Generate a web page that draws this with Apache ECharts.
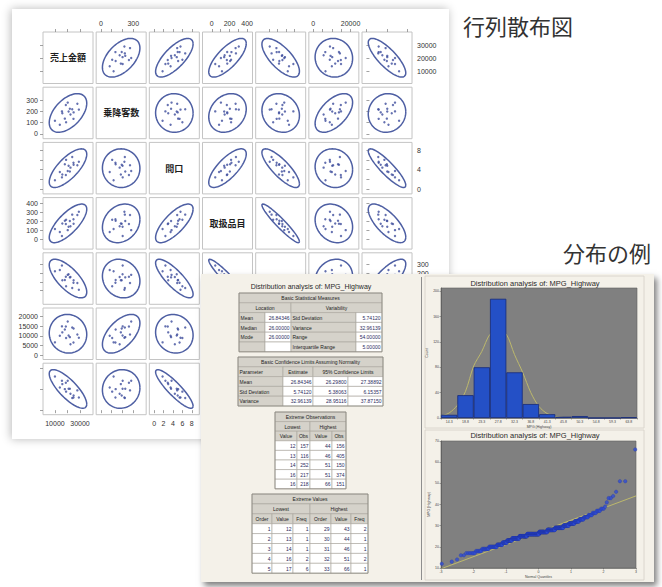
<!DOCTYPE html>
<html><head><meta charset="utf-8">
<script src="https://cdn.jsdelivr.net/npm/echarts@6.0.0/dist/echarts.min.js"></script>
<style>
html,body{margin:0;padding:0;background:#fff;width:662px;height:587px;overflow:hidden;}
#panelA{position:absolute;left:12px;top:9px;width:437px;height:430px;background:#fff;box-shadow:-1px 0 9px rgba(0,0,0,0.28);}
#chartA{position:absolute;left:0;top:0;width:662px;height:587px;}
#panelB{position:absolute;left:201px;top:274px;width:453px;height:308px;background:#f4f1e9;box-shadow:3px 4px 6px rgba(0,0,0,0.5);}
#chartB{position:absolute;left:0;top:0;width:453px;height:308px;}
</style></head><body>
<div id="panelA"></div>
<div id="chartA"></div>
<div id="panelB"><div id="chartB"></div></div>
<script>
// ---------------- Scatter-matrix data (16 stores) ----------------
const varNames = ['売上金額','乗降客数','間口','取扱品目','駐車台数','商圏人口','駅距離'];
const sales      = [15600,10000,20200,13900,18700,20900,15900,22400,17900,21900,24900,18900,27900,24800,23800,29100];
const passengers = [202,118,281,82,260,201,185,174,137,226,193,105,270,135,222,218];
const frontage   = [2.4,1.8,3.7,3.5,2.9,4.8,3.0,4.4,5.1,3.6,5.0,6.0,4.9,5.4,6.6,5.6];
const items      = [39,115,103,82,170,140,175,145,207,204,174,218,269,222,273,305];
const parking    = [291,224,182,239,160,190,119,158,123,153,120,49,88,91,30,8];
const population = [14900,6600,17400,10000,14800,10200,11800,5600,13300,9300,13800,8900,10700,6500,14300,9000];
const distance   = [7.0,8.0,7.0,5.4,6.5,5.1,6.2,3.9,5.0,5.1,3.5,4.4,4.7,3.0,2.9,3.0];
const varData = [sales, passengers, frontage, items, parking, population, distance];
// diagonal labels that are visible (the others lie under the distribution screenshot)
const shownDiag = [0,1,2,3];

// tick marks and tick labels per variable / side (labels hidden under the overlay are left out)
const tickVals = [[10000,20000,30000],[0,100,200,300],[0,2,4,6,8],[0,100,200,300,400],[0,100,200,300],[0,5000,10000,15000,20000],[0,5,10]];
const topLabels    = {1:[0,300], 3:[0,200,400], 5:[0,20000]};
const bottomLabels = {0:[10000,30000], 2:[0,2,4,6,8]};
const leftLabels   = {1:[0,100,200,300], 3:[0,100,200,300,400], 5:[0,5000,10000,15000,20000]};
const rightLabels  = {0:[10000,20000,30000], 2:[0,4,8], 4:[200,300]};

// ---------------- Distribution data (MPG_Highway, n=428) ----------------
const mpgValues = [12,13,14,16,17,18,19,20,21,22,23,24,25,26,27,28,29,30,31,32,33,34,35,36,37,38,39,41,43,44,46,51,66];
const mpgCounts = [1,1,1,2,6,6,10,16,14,14,18,30,36,62,43,37,36,20,18,12,10,8,6,5,4,3,1,1,2,1,1,2,1];
const histLabels = ['14.3','18.8','23.3','27.8','32.3','36.8','41.3','45.8','50.3','54.8','59.3','63.8'];
const histCounts = [5,36,80,188,72,22,6,2,3,0,0,1];
const histYTicks = [0,40,80,120,160,200];
const curveX = [12,14.25,16.5,18.75,21,23.25,25.5,27.75,30,32.25,34.5,36.75,39,41.25,43.5,45.75,48,52];
const curveY = [3,8,20,42,82,105,132,138,132,100,72,40,18,7,2.5,0.8,0.2,0];
const mpgMean = 26.84346, mpgStd = 5.74120;

const basicLoc = [['Mean','26.84346'],['Median','26.00000'],['Mode','26.00000'],['','']];
const basicVar = [['Std Deviation','5.74120'],['Variance','32.96139'],['Range','54.00000'],['Interquartile Range','5.00000']];
const confRows = [['Mean','26.84346','26.29800','27.38892'],['Std Deviation','5.74120','5.38063','6.15357'],['Variance','32.96139','28.95116','37.87150']];
const extObsLow  = [[12,157],[13,116],[14,252],[16,217],[16,218]];
const extObsHigh = [[44,156],[46,405],[51,150],[51,374],[66,151]];
const extValLow  = [[1,12,1],[2,13,1],[3,14,1],[4,16,2],[5,17,6]];
const extValHigh = [[29,43,2],[30,44,1],[31,46,1],[32,51,2],[33,66,1]];

// ---------------- helpers ----------------
function stats(a){const n=a.length;const m=a.reduce((s,v)=>s+v,0)/n;const sd=Math.sqrt(a.reduce((s,v)=>s+(v-m)*(v-m),0)/(n-1));return {m,sd};}
function corr(a,b){const sa=stats(a),sb=stats(b);let s=0;for(let i=0;i<a.length;i++)s+=(a[i]-sa.m)*(b[i]-sb.m);return s/((a.length-1)*sa.sd*sb.sd);}
const K_ELLIPSE = 2.918;      // 95% prediction ellipse radius, n=16
const ELLIPSE_FILL = 0.75;    // share of cell taken by ellipse
function ellipsePts(xa, ya){
  const sx=stats(xa), sy=stats(ya), r=corr(xa,ya), q=Math.sqrt(1-r*r), pts=[];
  for(let t=0;t<=80;t++){const a=2*Math.PI*t/80,u=Math.cos(a),v=Math.sin(a);
    pts.push([sx.m+K_ELLIPSE*sx.sd*u, sy.m+K_ELLIPSE*sy.sd*(r*u+q*v)]);}
  return pts;
}
function normInv(p){
 const a=[-3.969683028665376e+01,2.209460984245205e+02,-2.759285104469687e+02,1.383577518672690e+02,-3.066479806614716e+01,2.506628277459239e+00];
 const b=[-5.447609879822406e+01,1.615858368580409e+02,-1.556989798598866e+02,6.680131188771972e+01,-1.328068155288572e+01];
 const c=[-7.784894002430293e-03,-3.223964580411365e-01,-2.400758277161838e+00,-2.549732539343734e+00,4.374664141464968e+00,2.938163982698783e+00];
 const d=[7.784695709041462e-03,3.224671290700398e-01,2.445134137142996e+00,3.754408661907416e+00];
 const pl=0.02425;let q,r;
 if(p<pl){q=Math.sqrt(-2*Math.log(p));return (((((c[0]*q+c[1])*q+c[2])*q+c[3])*q+c[4])*q+c[5])/((((d[0]*q+d[1])*q+d[2])*q+d[3])*q+1);}
 if(p<=1-pl){q=p-0.5;r=q*q;return (((((a[0]*r+a[1])*r+a[2])*r+a[3])*r+a[4])*r+a[5])*q/(((((b[0]*r+b[1])*r+b[2])*r+b[3])*r+b[4])*r+1);}
 q=Math.sqrt(-2*Math.log(1-p));return -(((((c[0]*q+c[1])*q+c[2])*q+c[3])*q+c[4])*q+c[5])/((((d[0]*q+d[1])*q+d[2])*q+d[3])*q+1);
}

// ---------------- Chart A: scatter matrix ----------------
const cellLeft0=43, cellStepX=53.17, cellW=50;
const cellTop0=32, cellStepY=55.2, cellH=51.5;
const ranges = varData.map(a=>{const s=stats(a);const h=K_ELLIPSE/ELLIPSE_FILL*s.sd;return [s.m-h,s.m+h];});
const FONT='Liberation Sans, Arial, sans-serif';
const grids=[], xAxes=[], yAxes=[], seriesA=[], graphicsA=[];
for(let i=0;i<7;i++){for(let j=0;j<7;j++){
  const g=i*7+j;
  const left=cellLeft0+j*cellStepX, top=cellTop0+i*cellStepY;
  grids.push({left:left, top:top, width:cellW, height:cellH, show:true, backgroundColor:'#ffffff', borderColor:'#c4c4c4', borderWidth:1});
  const xSide = i===0?'top':(i===6?'bottom':null);
  const xLab = i===0?topLabels[j]:(i===6?bottomLabels[j]:null);
  const ySide = j===0?'left':(j===6?'right':null);
  const yLab = j===0?leftLabels[i]:(j===6?rightLabels[i]:null);
  const lab = (vals)=>vals?{show:true, customValues:vals, fontSize:7, color:'#333333', margin:5, fontFamily:FONT, formatter:v=>String(v)}:{show:false};
  xAxes.push({gridIndex:g, type:'value', min:ranges[j][0], max:ranges[j][1], show:xSide!==null, position:xSide||'bottom',
    axisLine:{show:false}, splitLine:{show:false},
    axisTick:{show:true, length:3, lineStyle:{color:'#8a8a8a', width:0.8}, customValues:tickVals[j]}, axisLabel:lab(xLab)});
  yAxes.push({gridIndex:g, type:'value', min:ranges[i][0], max:ranges[i][1], show:ySide!==null, position:ySide||'left',
    axisLine:{show:false}, splitLine:{show:false},
    axisTick:{show:true, length:3, lineStyle:{color:'#8a8a8a', width:0.8}, customValues:tickVals[i]}, axisLabel:lab(yLab)});
  if(i===j){
    if(shownDiag.indexOf(i)>=0){
      graphicsA.push({type:'text', x:left+cellW/2, y:top+cellH/2, z:10,
        style:{text:varNames[i], fontSize:9, fontWeight:'bold', fill:'#1e1e1e', align:'center', verticalAlign:'middle', fontFamily:'Noto Sans CJK JP'}});
    }
  } else {
    const xa=varData[j], ya=varData[i];
    seriesA.push({type:'line', xAxisIndex:g, yAxisIndex:g, data:ellipsePts(xa,ya), showSymbol:false, symbol:'none', silent:true,
      lineStyle:{color:'#4e5fa3', width:1.5}, z:2});
    seriesA.push({type:'scatter', xAxisIndex:g, yAxisIndex:g, data:xa.map((v,k)=>[v,ya[k]]), symbolSize:2.4, silent:true,
      itemStyle:{color:'#3e4d9c'}, z:3});
  }
}}
const chartA = echarts.init(document.getElementById('chartA'), null, {renderer:'svg'});
chartA.setOption({
  animation:false,
  title:[
    {text:'行列散布図', left:458, top:9, textStyle:{fontSize:22, fontWeight:'normal', color:'#333', fontFamily:'Noto Sans CJK JP'}},
    {text:'分布の例', left:558, top:236, textStyle:{fontSize:22, fontWeight:'normal', color:'#333', fontFamily:'Noto Sans CJK JP'}}
  ],
  grid:grids, xAxis:xAxes, yAxis:yAxes, series:seriesA, graphic:graphicsA
});

// ---------------- Chart B: distribution analysis ----------------
const HDR='#d5d2ca', VAL='#ffffff', CELLLINE='#a7a49c';
const els=[];
function table(x0, y0, colX, rowH, rows){
  rows.forEach((row,ri)=>{
    const y=y0+ri*rowH; let c=0;
    row.forEach(cell=>{
      const span=cell.s||1, x1=colX[c], x2=colX[c+span];
      els.push({type:'rect', shape:{x:x1,y:y,width:x2-x1,height:rowH}, style:{fill:cell.k==='v'?VAL:HDR, stroke:CELLLINE, lineWidth:0.6}});
      if(cell.t!==undefined && cell.t!==''){
        const al=cell.k==='v'?'right':(cell.k==='l'?'left':'center');
        const tx=al==='right'?x2-1.5:(al==='left'?x1+1.5:(x1+x2)/2);
        els.push({type:'text', x:tx, y:y+rowH/2+0.3, style:{text:String(cell.t), fontSize:5, fill:cell.k==='v'?'#2b2b5c':'#222', align:al, verticalAlign:'middle', fontFamily:FONT}});
      }
      c+=span;
    });
  });
  els.push({type:'rect', shape:{x:colX[0],y:y0,width:colX[colX.length-1]-colX[0],height:rowH*rows.length}, style:{fill:'none', stroke:'#8c8980', lineWidth:0.8}});
}
// titles
els.push({type:'text', x:110, y:12, style:{text:'Distribution analysis of: MPG_Highway', fontSize:7, fill:'#2a2a2a', align:'center', verticalAlign:'middle', fontFamily:FONT}});
// table 1
const t1=[[{t:'Basic Statistical Measures',s:4}],[{t:'Location',s:2},{t:'Variability',s:2}]];
basicLoc.forEach((r,k)=>t1.push([{t:r[0],k:'l'},{t:r[1],k:'v'},{t:basicVar[k][0],k:'l'},{t:basicVar[k][1],k:'v'}]));
table(38,19,[38,64,90,155,181],9.8,t1);
// table 2
const t2=[[{t:'Basic Confidence Limits Assuming Normality',s:4}],[{t:'Parameter',k:'l'},{t:'Estimate'},{t:'95% Confidence Limits',s:2}]];
confRows.forEach(r=>t2.push([{t:r[0],k:'l'},{t:r[1],k:'v'},{t:r[2],k:'v'},{t:r[3],k:'v'}]));
table(37,83,[37,82,112,147,182],9.8,t2);
// table 3
const t3=[[{t:'Extreme Observations',s:4}],[{t:'Lowest',s:2},{t:'Highest',s:2}],[{t:'Value'},{t:'Obs'},{t:'Value'},{t:'Obs'}]];
extObsLow.forEach((r,k)=>t3.push([{t:r[0],k:'v'},{t:r[1],k:'v'},{t:extObsHigh[k][0],k:'v'},{t:extObsHigh[k][1],k:'v'}]));
table(74,138,[74,96,109,131,145],9.6,t3);
// table 4
const t4=[[{t:'Extreme Values',s:6}],[{t:'Lowest',s:3},{t:'Highest',s:3}],[{t:'Order'},{t:'Value'},{t:'Freq'},{t:'Order'},{t:'Value'},{t:'Freq'}]];
extValLow.forEach((r,k)=>t4.push([{t:r[0],k:'v'},{t:r[1],k:'v'},{t:r[2],k:'v'},{t:extValHigh[k][0],k:'v'},{t:extValHigh[k][1],k:'v'},{t:extValHigh[k][2],k:'v'}]));
table(51,220,[51,71,92,109,130,150,167],9.9,t4);
// right pane frame
els.push({type:'line', shape:{x1:220.5,y1:3,x2:220.5,y2:306}, style:{stroke:'#8e8e8e', lineWidth:1}});
els.push({type:'rect', shape:{x:224,y:2,width:219,height:152}, style:{fill:'none', stroke:'#d6d1c6', lineWidth:0.8}});
els.push({type:'rect', shape:{x:224,y:156,width:219,height:150}, style:{fill:'none', stroke:'#d6d1c6', lineWidth:0.8}});
els.push({type:'text', x:334, y:9, style:{text:'Distribution analysis of: MPG_Highway', fontSize:7.5, fill:'#2a2a2a', align:'center', verticalAlign:'middle', fontFamily:FONT}});
els.push({type:'text', x:334, y:161, style:{text:'Distribution analysis of: MPG_Highway', fontSize:7.5, fill:'#2a2a2a', align:'center', verticalAlign:'middle', fontFamily:FONT}});

const nObs=mpgCounts.reduce((a,b)=>a+b,0);
const qqPoints=[]; let rank=0;
mpgValues.forEach((v,idx)=>{for(let c=0;c<mpgCounts[idx];c++){rank++;qqPoints.push([normInv((rank-0.375)/(nObs+0.25)),v]);}});

const smallAxis = {axisLine:{show:true,onZero:false,lineStyle:{color:'#555',width:0.6}}, axisTick:{show:true,length:1.5,lineStyle:{color:'#555',width:0.5}}, splitLine:{show:false}};
const chartB = echarts.init(document.getElementById('chartB'), null, {renderer:'svg'});
chartB.setOption({
  animation:false,
  grid:[
    {left:240, top:14, width:196, height:130, show:true, backgroundColor:'#808080', borderColor:'#606060', borderWidth:0.6},
    {left:240, top:167, width:195, height:127, show:true, backgroundColor:'#808080', borderColor:'#606060', borderWidth:0.6}
  ],
  xAxis:[
    Object.assign({gridIndex:0, type:'category', data:histLabels, boundaryGap:true,
      axisLabel:{fontSize:3.5, color:'#444', margin:2, interval:0, fontFamily:FONT},
      name:'MPG (Highway)', nameLocation:'middle', nameGap:7, nameTextStyle:{fontSize:3.5, color:'#444', fontFamily:FONT}}, smallAxis),
    {gridIndex:0, type:'value', min:12, max:66, show:false},
    Object.assign({gridIndex:1, type:'value', min:-3, max:3, interval:1,
      axisLabel:{fontSize:3.5, color:'#444', margin:2, fontFamily:FONT},
      name:'Normal Quantiles', nameLocation:'middle', nameGap:7, nameTextStyle:{fontSize:3.5, color:'#444', fontFamily:FONT}}, smallAxis)
  ],
  yAxis:[
    Object.assign({gridIndex:0, type:'value', min:0, max:205,
      axisLabel:{fontSize:3.5, color:'#444', margin:2, customValues:histYTicks, fontFamily:FONT},
      name:'Count', nameLocation:'middle', nameGap:9, nameRotate:90, nameTextStyle:{fontSize:3.5, color:'#444', fontFamily:FONT}}, smallAxis,
      {axisTick:{show:true,length:1.5,lineStyle:{color:'#555',width:0.5},customValues:histYTicks}}),
    Object.assign({gridIndex:1, type:'value', min:10, max:70, interval:10,
      axisLabel:{fontSize:3.5, color:'#444', margin:2, fontFamily:FONT},
      name:'MPG (Highway)', nameLocation:'middle', nameGap:9, nameRotate:90, nameTextStyle:{fontSize:3.5, color:'#444', fontFamily:FONT}}, smallAxis)
  ],
  series:[
    {type:'line', xAxisIndex:1, yAxisIndex:0, data:curveX.map((x,k)=>[x,curveY[k]]), smooth:0.3, symbol:'none', silent:true,
      lineStyle:{color:'#bcb86c', width:1}, z:2},
    {type:'bar', xAxisIndex:0, yAxisIndex:0, data:histCounts, barCategoryGap:'0%', silent:true,
      itemStyle:{color:'#2450c6', borderColor:'#15297a', borderWidth:0.8}, z:3},
    {type:'line', xAxisIndex:2, yAxisIndex:1, data:[[-3,mpgMean-3*mpgStd],[3,mpgMean+3*mpgStd]], symbol:'none', silent:true,
      lineStyle:{color:'#bcb86c', width:1}, z:2},
    {type:'scatter', xAxisIndex:2, yAxisIndex:1, data:qqPoints, symbolSize:3.6, silent:true,
      itemStyle:{color:'#2e4bd3', borderColor:'#1d2f96', borderWidth:0.3}, z:3}
  ],
  graphic:els
});
</script>
</body></html>
